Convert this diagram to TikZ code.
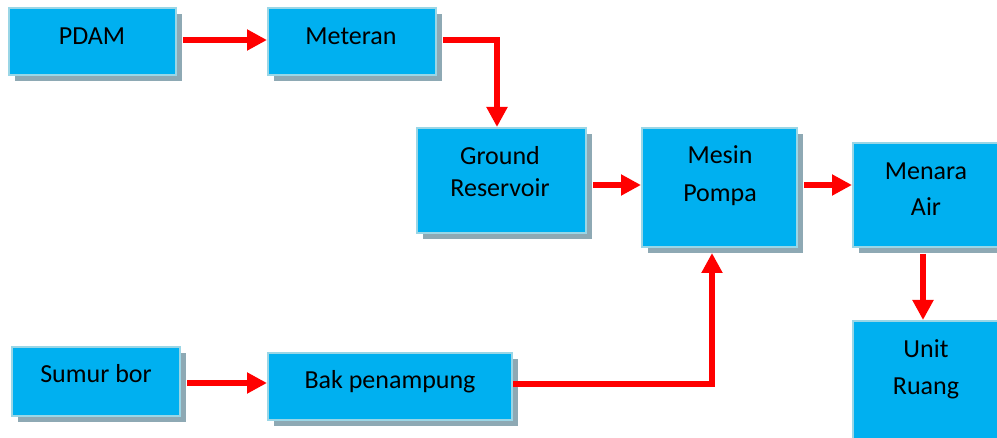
\documentclass[tikz,border=0pt]{standalone}
\usepackage{fontspec}
\setmainfont{Carlito}
\usetikzlibrary{arrows.meta,shadows}
\definecolor{boxc}{HTML}{00B0F0}
\definecolor{borderc}{HTML}{9AD6E6}
\definecolor{shadowc}{HTML}{8EA9B4}
\definecolor{arrc}{HTML}{FF0000}
\tikzset{
  box/.style={draw=borderc, line width=2pt, fill=boxc, inner sep=0pt,
    general shadow={fill=shadowc, shadow xshift=6pt, shadow yshift=-6pt}},
  txt/.style={font=\fontsize{26}{30}\selectfont, text=black, inner sep=0pt, anchor=base},
  arr/.style={draw=arrc, line width=6.5pt, -{Triangle[length=20pt,width=20pt]}},
}
\begin{document}
\begin{tikzpicture}[x=1pt,y=-1pt]
\useasboundingbox (0,0) rectangle (997,438);
\clip (0,0) rectangle (997,438);
\fill[white] (0,0) rectangle (997,438);
% boxes
\node[box, minimum width=167pt, minimum height=67pt] (pdam) at (92.5,41.5) {};
\node[box, minimum width=168pt, minimum height=67pt] (meteran) at (352,41.5) {};
\node[box, minimum width=169pt, minimum height=105pt] (gr) at (501.5,180.5) {};
\node[box, minimum width=155pt, minimum height=119pt] (mesin) at (719.5,187.5) {};
\node[box, minimum width=155pt, minimum height=104pt] (menara) at (930.5,195) {};
\node[box, minimum width=155pt, minimum height=120pt] (unit) at (930.5,381) {};
\node[box, minimum width=168pt, minimum height=69pt] (sumur) at (96,381.5) {};
\node[box, minimum width=244pt, minimum height=67pt] (bak) at (390,386.5) {};
% texts
\node[txt] (tpdam) at (92,45) {PDAM};
\node[txt] (tmeteran) at (351,45) {Meteran};
\node[txt] (tgr1) at (500,165) {Ground};
\node[txt] (tgr2) at (500,197) {Reservoir};
\node[txt] (tmesin1) at (720,164) {Mesin};
\node[txt] (tmesin2) at (720,202) {Pompa};
\node[txt] (tmenara1) at (926,180) {Menara};
\node[txt] (tmenara2) at (926,216) {Air};
\node[txt] (tunit1) at (926,358) {Unit};
\node[txt] (tunit2) at (926,395) {Ruang};
\node[txt] (tsumur) at (96,383) {Sumur bor};
\node[txt] (tbak) at (390,389) {Bak penampung};
% connectors
\draw[arr] ([xshift=6pt,yshift=1.5pt]pdam.east) coordinate (a1) -- (a1 -| meteran.west);
\draw[arr] ([xshift=6pt,yshift=1.5pt]meteran.east) -| ([xshift=-4.5pt]gr.north);
\draw[arr] ([xshift=6pt,yshift=2.5pt]mesin.west -| gr.east) coordinate (a3) -- (a3 -| mesin.west);
\draw[arr] ([xshift=6pt,yshift=2.5pt]mesin.east) coordinate (a4) -- (a4 -| menara.west);
\draw[arr] ([xshift=-7.5pt,yshift=-6pt]menara.south) -- ([xshift=-7.5pt]unit.north);
\draw[arr] ([xshift=6pt,yshift=-1.5pt]sumur.east) coordinate (a6) -- (a6 -| bak.west);
\draw[arr] ([yshift=2.5pt]bak.east) -| ([xshift=-7.5pt,yshift=-5pt]mesin.south);
\end{tikzpicture}
\end{document}
